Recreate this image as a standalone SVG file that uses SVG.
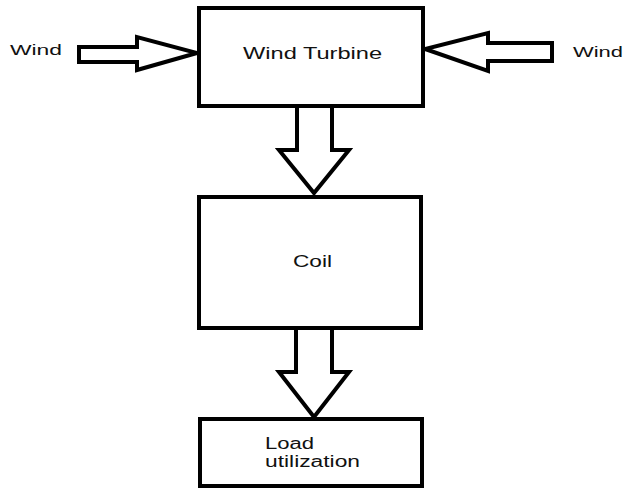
<svg xmlns="http://www.w3.org/2000/svg" width="625" height="490" viewBox="0 0 625 490">
<style>
.box{fill:#fff;stroke:#000;stroke-width:4}
.arr{fill:#fff;stroke:#000;stroke-width:4;stroke-linejoin:miter}
text{font-family:"Liberation Sans",Arial,sans-serif;fill:#111}
.lbl{font-size:16px}
.side{font-size:15px}
</style>
<rect width="625" height="490" fill="#fff"/>
<g id="connectors">
<polygon id="wind-left-arrow" class="arr" points="79,47 137,47 137,37 197,53 137,70 137,62 79,62"/>
<polygon id="wind-right-arrow" class="arr" points="552,43 488,43 488,33 425,49 488,71 488,61 552,61"/>
<polygon id="turbine-coil-arrow" class="arr" points="297,106 332,106 332,150 349,150 314,193 279,150 297,150"/>
<polygon id="coil-load-arrow" class="arr" points="296,328 332,328 332,372 349,372 314,417 279,372 296,372"/>
</g>
<g id="wind-left"><text class="side" x="10" y="55" textLength="52" lengthAdjust="spacingAndGlyphs">Wind</text></g>
<g id="wind-right"><text class="side" x="573" y="57" textLength="50" lengthAdjust="spacingAndGlyphs">Wind</text></g>
<g id="wind-turbine">
<rect class="box" x="199" y="8" width="224" height="98"/>
<text class="lbl" x="243" y="59" textLength="139" lengthAdjust="spacingAndGlyphs">Wind Turbine</text>
</g>
<g id="coil">
<rect class="box" x="199" y="197" width="222" height="131"/>
<text class="lbl" x="293" y="267" textLength="39" lengthAdjust="spacingAndGlyphs">Coil</text>
</g>
<g id="load">
<rect class="box" x="200" y="419" width="222" height="67"/>
<text class="lbl" x="265" y="449" textLength="49" lengthAdjust="spacingAndGlyphs">Load</text>
<text class="lbl" x="265" y="467" textLength="95" lengthAdjust="spacingAndGlyphs">utilization</text>
</g>
</svg>
